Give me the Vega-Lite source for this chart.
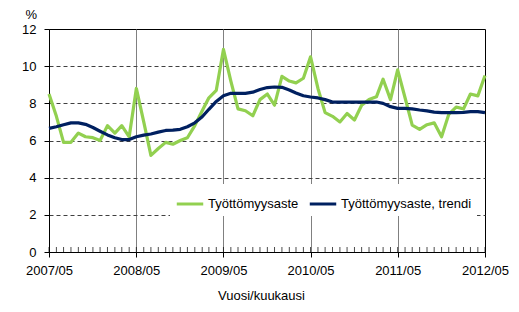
{
  "$schema": "https://vega.github.io/schema/vega-lite/v6.json",
  "width": 436,
  "height": 223,
  "autosize": {"type": "none"},
  "padding": {"left": 49, "top": 29, "right": 34, "bottom": 60},
  "config": {
    "font": "Liberation Sans",
    "view": {"stroke": "black", "strokeWidth": 1},
    "axis": {"labelFont": "Liberation Sans", "titleFont": "Liberation Sans", "labelFontSize": 13, "titleFontSize": 13, "labelColor": "black", "titleColor": "black", "titleFontWeight": "normal", "domainColor": "black", "tickColor": "black"},
    "legend": {"labelFont": "Liberation Sans", "labelFontSize": 13, "labelColor": "black"}
  },
  "datasets": {
    "main": [
    {"d": "2007-05-01", "t": 8.5, "tr": 6.65},
    {"d": "2007-06-01", "t": 7.3, "tr": 6.74},
    {"d": "2007-07-01", "t": 5.9, "tr": 6.85},
    {"d": "2007-08-01", "t": 5.9, "tr": 6.95},
    {"d": "2007-09-01", "t": 6.4, "tr": 6.95},
    {"d": "2007-10-01", "t": 6.2, "tr": 6.87},
    {"d": "2007-11-01", "t": 6.15, "tr": 6.7},
    {"d": "2007-12-01", "t": 6.0, "tr": 6.5},
    {"d": "2008-01-01", "t": 6.8, "tr": 6.3},
    {"d": "2008-02-01", "t": 6.4, "tr": 6.15},
    {"d": "2008-03-01", "t": 6.8, "tr": 6.05},
    {"d": "2008-04-01", "t": 6.2, "tr": 6.05},
    {"d": "2008-05-01", "t": 8.8, "tr": 6.2},
    {"d": "2008-06-01", "t": 7.0, "tr": 6.29},
    {"d": "2008-07-01", "t": 5.2, "tr": 6.35},
    {"d": "2008-08-01", "t": 5.57, "tr": 6.45},
    {"d": "2008-09-01", "t": 5.9, "tr": 6.54},
    {"d": "2008-10-01", "t": 5.8, "tr": 6.56},
    {"d": "2008-11-01", "t": 6.0, "tr": 6.6},
    {"d": "2008-12-01", "t": 6.15, "tr": 6.74},
    {"d": "2009-01-01", "t": 6.8, "tr": 6.95},
    {"d": "2009-02-01", "t": 7.6, "tr": 7.28},
    {"d": "2009-03-01", "t": 8.3, "tr": 7.68},
    {"d": "2009-04-01", "t": 8.7, "tr": 8.1},
    {"d": "2009-05-01", "t": 10.9, "tr": 8.41},
    {"d": "2009-06-01", "t": 9.2, "tr": 8.54},
    {"d": "2009-07-01", "t": 7.7, "tr": 8.54},
    {"d": "2009-08-01", "t": 7.6, "tr": 8.54},
    {"d": "2009-09-01", "t": 7.33, "tr": 8.6},
    {"d": "2009-10-01", "t": 8.2, "tr": 8.74},
    {"d": "2009-11-01", "t": 8.5, "tr": 8.85},
    {"d": "2009-12-01", "t": 7.9, "tr": 8.88},
    {"d": "2010-01-01", "t": 9.45, "tr": 8.86},
    {"d": "2010-02-01", "t": 9.2, "tr": 8.72},
    {"d": "2010-03-01", "t": 9.1, "tr": 8.56},
    {"d": "2010-04-01", "t": 9.35, "tr": 8.41},
    {"d": "2010-05-01", "t": 10.5, "tr": 8.34},
    {"d": "2010-06-01", "t": 8.8, "tr": 8.29},
    {"d": "2010-07-01", "t": 7.5, "tr": 8.2},
    {"d": "2010-08-01", "t": 7.3, "tr": 8.07},
    {"d": "2010-09-01", "t": 7.0, "tr": 8.07},
    {"d": "2010-10-01", "t": 7.45, "tr": 8.07},
    {"d": "2010-11-01", "t": 7.1, "tr": 8.07},
    {"d": "2010-12-01", "t": 7.9, "tr": 8.07},
    {"d": "2011-01-01", "t": 8.2, "tr": 8.07},
    {"d": "2011-02-01", "t": 8.35, "tr": 8.07},
    {"d": "2011-03-01", "t": 9.3, "tr": 8.0},
    {"d": "2011-04-01", "t": 8.2, "tr": 7.82},
    {"d": "2011-05-01", "t": 9.8, "tr": 7.73},
    {"d": "2011-06-01", "t": 8.3, "tr": 7.73},
    {"d": "2011-07-01", "t": 6.83, "tr": 7.7},
    {"d": "2011-08-01", "t": 6.6, "tr": 7.64},
    {"d": "2011-09-01", "t": 6.85, "tr": 7.59},
    {"d": "2011-10-01", "t": 6.95, "tr": 7.53},
    {"d": "2011-11-01", "t": 6.2, "tr": 7.5},
    {"d": "2011-12-01", "t": 7.4, "tr": 7.5},
    {"d": "2012-01-01", "t": 7.8, "tr": 7.5},
    {"d": "2012-02-01", "t": 7.7, "tr": 7.51},
    {"d": "2012-03-01", "t": 8.5, "tr": 7.55},
    {"d": "2012-04-01", "t": 8.4, "tr": 7.55},
    {"d": "2012-05-01", "t": 9.5, "tr": 7.5}
    ]
  },
  "data": {"name": "main"},
  "transform": [{"fold": ["t", "tr"], "as": ["s", "v"]}],
  "encoding": {
    "x": {"field": "d", "type": "temporal", "scale": {"type": "utc", "domain": [{"year": 2007, "month": 5, "date": 1, "utc": true}, {"year": 2012, "month": 5, "date": 1, "utc": true}]},
      "axis": {"title": "Vuosi/kuukausi", "format": "%Y/%m", "values": [
        {"year": 2007, "month": 5, "date": 1, "utc": true},
        {"year": 2008, "month": 5, "date": 1, "utc": true},
        {"year": 2009, "month": 5, "date": 1, "utc": true},
        {"year": 2010, "month": 5, "date": 1, "utc": true},
        {"year": 2011, "month": 5, "date": 1, "utc": true},
        {"year": 2012, "month": 5, "date": 1, "utc": true}],
        "grid": true, "gridColor": "#808080", "gridWidth": 1,
        "gridOpacity": {"expr": "year(datum.value) == 2007 || year(datum.value) == 2012 ? 0 : 1"},
        "tickSize": 5, "labelPadding": 7, "titlePadding": 12, "titleX": 212, "labelFlush": false, "labelOverlap": false}},
    "y": {"field": "v", "type": "quantitative", "scale": {"domain": [0, 12], "nice": false},
      "axis": {"title": "%", "titleAngle": 0, "titleAlign": "left", "titleBaseline": "alphabetic", "titleX": -24, "titleY": -11,
        "values": [0, 2, 4, 6, 8, 10, 12], "tickCount": 7, "labelOverlap": false, "grid": true, "gridColor": "#404040", "gridDash": [4, 3],
        "gridOpacity": {"expr": "datum.value == 0 || datum.value == 12 ? 0 : 1"},
        "tickSize": 5, "labelPadding": 8}},
    "color": {"field": "s", "type": "nominal",
      "scale": {"domain": ["t", "tr"], "range": ["#92D050", "#002060"]},
      "legend": {"title": null, "orient": "none", "direction": "horizontal", "legendX": 121, "legendY": 155,
        "labelExpr": "datum.value == 't' ? 'Työttömyysaste' : 'Työttömyysaste, trendi'",
        "fillColor": "white", "padding": 5, "symbolType": "M-1,0L1,0", "symbolSize": 700, "symbolStrokeWidth": 3, "columnPadding": 4, "labelOffset": 3}}
  },
  "layer": [
    {
      "transform": [{"filter": "datum.s == 't'"}],
      "mark": {"type": "tick", "orient": "vertical", "color": "black", "size": 5, "thickness": 1, "yOffset": -2.5},
      "encoding": {
        "y": {"datum": 0},
        "color": {"value": "black"}
      }
    },
    {
      "mark": {"type": "line", "strokeWidth": 3.2, "strokeJoin": "round"}
    }
  ]
}
